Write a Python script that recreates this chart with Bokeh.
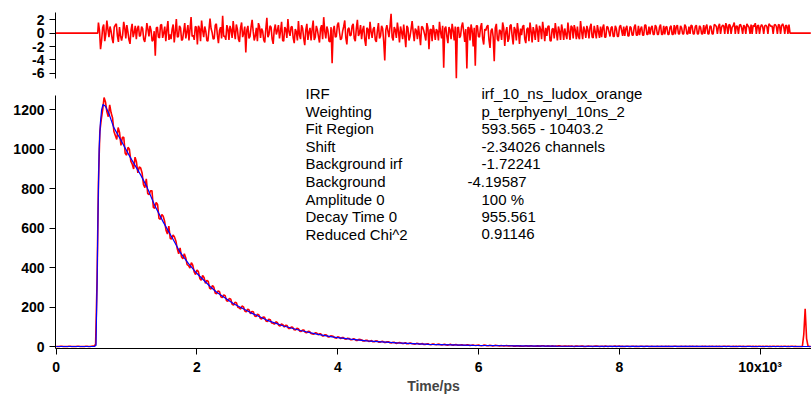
import numpy as np
from bokeh.plotting import figure
from bokeh.layouts import column
from bokeh.models import FixedTicker, Range1d, Label
from bokeh.embed import file_html
from bokeh.resources import INLINE

# ---------------- data ----------------
# fitted decay (blue), time in ps
fit_time = [0, 540, 565, 580, 595, 610, 627, 645, 665, 700, 750, 815, 900, 1050, 1200,
            1290, 1400, 1525, 1650, 1760, 1880, 2000, 2190, 2280, 2520, 2760, 2990, 3230,
            3470, 3700, 3940, 4180, 4410, 4840, 5300, 5930, 6500, 7100, 8000, 9000, 10000, 10720]
fit_counts = [0, 0, 5, 300, 700, 1000, 1130, 1200, 1227, 1218, 1180, 1112, 1058, 960, 870,
              808, 715, 628, 550, 478, 420, 370, 303, 275, 217, 172, 134, 104,
              81, 63, 48, 37, 29, 18, 11, 6, 3.5, 2, 0.8, 0.3, 0.1, 0]

# measured decay (red), channels evenly spaced (20 ps) from data_first to data_last ps
data_first, data_last = 0, 10720
data_counts = [
    # 0 - 540
    0, 0, 0, 1, 1, 0, 0, 0, 0, 1, 1, 0, 0, 0, 0, 1, 1, 0, 0, 0, 0, 1, 1, 0, 0, 1, 2, 3,
    # 560 - 1140
    12, 330, 830, 1090, 1150, 1200, 1262, 1240, 1190, 1165, 1225, 1185, 1160, 1090, 1070,
    1050, 1110, 1085, 1020, 1060, 1060, 980, 970, 1010, 1000, 940, 925, 900, 960, 935,
    # 1160 - 1740
    880, 910, 905, 880, 820, 805, 850, 775, 770, 790, 790, 705, 700, 730, 720, 650,
    645, 670, 660, 635, 590, 570, 610, 548, 545, 565, 555, 535, 495, 470,
    # 1760 - 2340
    500, 455, 445, 470, 450, 415, 410, 398, 425, 412, 378, 365, 388, 380, 345, 336,
    360, 350, 320, 335, 330, 295, 292, 309, 300, 270, 268, 282, 278, 252,
    # 2360 - 2940
    248, 262, 258, 232, 230, 244, 240, 214, 210, 224, 222, 199, 196, 190, 205, 201,
    180, 176, 190, 185, 166, 178, 176, 155, 152, 164, 160, 142, 140, 150,
    # 2960 - 3540
    148, 129, 127, 138, 136, 119, 118, 113, 125, 122, 108, 104, 114, 111, 99, 108,
    106, 92, 91, 99, 97, 85, 84, 92, 90, 78, 76, 84, 83, 71,
    # 3560 - 4140
    70, 77, 76, 66, 64, 62, 70, 68, 59, 64, 64, 54, 53, 60, 58, 49, 49, 54, 53, 51,
    44, 42, 49, 47, 40, 45, 45, 38, 37, 42,
    # 4160 - 4740
    41, 35, 34, 39, 38, 31, 31, 36, 35, 33, 28, 28, 32, 31, 26, 27, 30, 24, 24, 29,
    28, 22, 22, 25, 26, 21, 20, 24, 24, 19,
    # 4760 - 5340
    18, 21, 22, 17, 16, 19, 20, 18, 15, 16, 19, 14, 14, 17, 17, 14, 13, 12, 16, 15,
    11, 13, 15, 11, 10, 13, 14, 10, 9, 12,
    # 5360 - 5940
    13, 10, 9, 11, 12, 9, 8, 10, 11, 8, 7, 9, 11, 8, 7, 9, 10, 7, 6, 8,
    9, 7, 6, 6, 9, 7, 5, 6, 8, 6,
    # 5960 - 6500
    5, 6, 7, 5, 4, 5, 7, 6, 4, 4, 6, 5, 3, 4, 6, 5, 4, 3, 5, 4, 3, 4, 5, 3, 3, 4, 4, 2,
    # 6520 - 10500
    2, 3, 4, 2, 3, 1, 1, 3, 4, 2, 2, 3, 3, 1, 1, 2, 3, 2, 2, 4,
    4, 2, 1, 3, 2, 1, 3, 2, 1, 2, 2, 3, 3, 1, 1, 2, 2, 1, 3, 1,
    3, 1, 0, 2, 2, 1, 1, 2, 2, 0, 0, 1, 2, 1, 1, 0, 1, 2, 2, 1,
    0, 1, 1, 0, 2, 1, 0, 1, 1, 0, 1, 2, 0, 1, 2, 0, 1, 0, 0, 1,
    1, 0, 0, 1, 1, 0, 1, 0, 0, 1, 1, 0, 0, 1, 1, 0, 0, 1, 0, 0,
    0, 1, 0, 0, 1, 0, 0, 1, 0, 1, 0, 0, 0, 1, 1, 0, 0, 0, 1, 0,
    0, 1, 0, 0, 1, 0, 1, 0, 0, 1, 0, 0, 0, 1, 0, 1, 0, 0, 1, 0,
    1, 0, 0, 1, 0, 1, 0, 0, 1, 1, 0, 1, 1, 0, 0, 1, 0, 1, 0, 1,
    1, 0, 1, 0, 0, 1, 1, 1, 0, 1, 0, 1, 0, 1, 1, 0, 1, 0, 1, 1,
    0, 1, 0, 1, 1, 0, 1, 1, 0, 1, 0, 1, 1, 0, 1, 0, 1, 1, 0, 1,
    # 10520 - 10720 (scatter peak of the next pulse)
    0, 0, 0, 0, 0, 60, 191, 40, 3, 0, 0]

# weighted residuals (top panel), fit-region channels from resid_first to resid_last ps
resid_first, resid_last = 600, 10410
residuals = [
    1.6, 0.4, -2.4, -1.1, 0.8, 1.3, -1.2, -0.2, 1.9, 0.6, -0.6, 1.0, 0.3, -0.8, -1.5, 0.9, 1.2, 1.4, -0.4, -1.3,
    0.9, -0.4, -1.1, -0.3, 1.7, 0.8, -0.8, 1.2, 0.2, -1.0, -1.6, 0.5, 1.4, -0.6, 0.1, 1.1, -0.9, 0.7, 1.1, -0.5,
    -0.3, 1.0, 0.7, -0.9, -1.3, -0.2, 1.5, 0.6, -0.5, 1.1, 0.4, -1.2, -1.0, 0.3, -3.4, 0.8, 0.9, -0.6, -0.7, 1.2,
    1.3, -0.7, 0.0, 1.0, -1.2, 0.5, 1.8, -1.0, -0.2, -0.9, 0.6, 1.3, -1.4, 0.2, 2.1, -0.6, -0.5, 1.1, 0.8, -1.1,
    -0.9, 0.3, 1.5, -0.8, 0.2, 1.2, -1.1, 0.6, 2.4, -0.5, -0.3, -1.0, 1.0, 0.9, -1.7, 1.1, 0.7, -1.2, 1.9, 0.4,
    -0.6, 1.0, 0.3, -1.1, -1.2, 0.5, 2.2, 0.7, 0.1, -0.9, -0.8, 1.2, 1.4, -0.3, -1.5, 0.4, 0.9, -0.8, 2.6, -0.5,
    -0.4, -1.0, 1.2, 0.6, -1.0, 1.1, 0.5, -0.7, 1.8, 0.2, -0.9, 1.3, 0.6, -0.9, -1.3, 0.8, 1.6, -0.6, 0.0, 1.0,
    -2.9, 0.5, 1.1, -0.8, -0.5, 0.9, 2.0, 0.3, -1.1, -0.4, 0.8, -1.2, 1.5, 1.0, -0.7, 0.7, 0.3, -1.0, -1.4, 0.6,
    2.3, -0.6, -0.2, 1.1, 0.9, -0.9, -1.6, 0.5, 1.3, -0.2, 0.4, 1.2, -0.8, 0.3, 1.7, -1.1, -1.2, 0.9, 0.6, -0.7,
    2.1, 0.2, -0.4, 0.9, 1.0, -0.7, -1.5, 0.6, 0.2, -1.1, 1.8, -0.3, -0.9, 1.2, 0.7, -0.8, -1.8, 0.5, 1.4, -1.0,
    0.1, 0.8, -1.1, 0.6, 1.9, -1.0, -0.6, 1.1, 0.5, -0.5, -1.4, 0.7, 1.2, -0.9, 2.4, 0.3, -0.8, 1.0, 0.4, -1.2,
    -1.3, 0.9, -4.5, 0.4, 1.1, -0.6, -0.5, 1.2, 1.6, 0.1, -1.0, -0.8, 0.3, 1.0, 1.9, -0.7, -1.7, 0.6, 0.8, -0.4,
    -0.3, 1.1, 1.4, -0.8, -1.2, 0.7, 2.0, -0.4, 0.0, 1.2, -0.9, 0.5, 1.1, -1.0, -1.9, 0.8, 0.6, -0.9, 1.7, 0.2,
    -0.7, 0.6, 0.9, -1.0, -1.3, 0.4, 1.5, -0.8, -0.4, 1.1, 0.7, -1.2, -4.1, 0.5, 1.2, 0.3, -0.6, 1.0, 2.9, -0.6,
    -1.1, 0.9, 0.5, -0.7, 1.6, 0.3, -1.4, 1.0, 0.2, -0.9, 1.3, -0.4, -2.1, 1.1, 0.8, -1.1, -0.5, 0.6, 1.8, 0.2,
    -1.2, 0.7, 0.4, -0.9, 1.1, -0.3, -1.8, 1.0, 0.9, 0.4, -0.3, -1.1, 1.5, 0.8, -2.4, 0.5, 0.6, -1.2, 1.2, 0.3,
    -1.0, 0.6, 0.3, -1.1, 1.7, 0.2, -0.8, 1.1, -5.2, 0.7, 1.0, -0.5, -1.5, 0.9, 0.5, -0.9, 1.4, 0.4, -1.1, 1.0,
    -6.8, 0.8, 0.9, -0.7, -0.4, 1.0, 1.6, 0.2, -1.3, 0.6, -5.3, 0.9, 0.8, -1.1, 1.3, 0.4, -2.0, 0.8, -4.9, 1.1,
    1.1, -0.5, -0.6, 0.9, 1.5, -0.8, -1.7, 0.6, 0.4, 1.0, 1.2, -1.0, -2.2, 0.4, 0.7, -0.6, -4.2, 0.8, 1.4, -0.9,
    -1.2, 0.5, 0.3, -1.0, 1.6, 0.8, -1.9, 0.2, 0.9, -1.3, -0.8, 1.1, 1.3, -0.4, -1.7, 0.9, 0.5, -1.1, 1.5, 0.2,
    -1.6, 0.7, -0.3, 1.0, 1.2, -0.9, -1.5, 0.6, 0.8, -1.2, 1.6, 0.3, -1.4, 0.9, 0.2, -1.0, 1.3, 0.5, -1.3, 1.1,
    0.6, -0.9, 1.7, 0.4, -1.2, 0.8, -0.4, 1.0, 1.1, -1.1, -1.2, 0.6, 0.7, -0.8, 1.5, 0.2, -1.1, 1.0, 0.3, -1.0,
    1.3, 0.4, -1.0, 0.7, -0.2, -0.9, 1.6, 0.2, -1.0, 1.1, 0.9, -0.8, 1.2, 0.5, -0.9, 1.0, -0.5, -0.9, 1.8, 0.3,
    -0.9, 1.0, 0.4, -0.7, 1.1, 0.5, -0.8, 0.9, 1.4, -0.6, -0.7, 1.1, 0.2, -0.8, 1.2, 0.3, -0.7, 1.0, -0.6, 0.8,
    1.3, -0.6, -0.6, 1.0, 0.9, 0.2, -0.5, 0.8, 1.0, -0.5, -0.5, 1.1, 0.7, -0.5, -0.5, 0.9, 1.2, 0.4, -0.4, 1.0,
    -0.4, 0.7, 1.1, -0.4, -0.4, 1.0, 0.8, -0.3, -0.3, 0.9, 1.3, -0.3, -0.3, 1.1, -0.3, 0.6, 1.0, -0.3, -0.3, 1.2,
    1.2, -0.2, -0.2, 1.0, -0.2, 0.8, 1.1, -0.2, -0.2, 1.2, 0.9, -0.2, -0.2, 0.9, 1.3, -0.2, -0.2, 1.1, -0.2, 0.9,
    1.0, -0.2, -0.2, 0.9, 1.1, -0.2, -0.2, 1.2, -0.2, 1.0, 1.2, -0.1, -0.1, 1.1, 0.8, -0.1, -0.1, 1.3, 1.0, -0.1,
    -0.1, 1.0, -0.1, 1.2, 1.1, -0.1, -0.1, 1.0, 1.2, -0.1, -0.1, 1.1, 0.9, -0.1, -0.1, 1.2, -0.1, 0.9, 1.3, -0.1,
    -0.1, 1.1, 1.0, -0.1, -0.1, 1.3, 1.2, 1.0, -0.1, 1.0, 1.4, -0.1, 0.9, 1.2, 1.1, -0.1, 1.5, 1.0, -0.1, 1.3,
    1.2, -0.1, 0.9, 1.1, 1.6, -0.1, 1.1, 1.0, -0.1, 1.2, 1.3, 0.8, -0.1, 1.2, 1.0, -0.1, 1.4, 1.1, 0.9, -0.1,
    1.3, -0.1, 1.2, 1.0, 1.5, -0.1, 1.1, 1.2, -0.1, 0.9, 1.3, 1.0, -0.1, 1.1, 1.2, 1.0, -0.1, 1.4, 1.2, 1.0,
    1.1, -0.1, 1.2, 1.3, 1.0, -0.1, 1.3, 1.2, -0.1, 1.1, 1.4, 1.0, -0.1, 1.2, 1.1, -0.1, 1.3]
resid_outside = 0.0  # residual outside the fit region

# axes
x_ticks = [0, 2000, 4000, 6000, 8000, 10000]
x_tick_labels = ["0", "2", "4", "6", "8", "10x10\u00b3"]
resid_ticks = [2, 0, -2, -4, -6]
resid_tick_labels = ["2", "0", "-2", "-4", "-6"]
count_ticks = [0, 200, 400, 600, 800, 1000, 1200]
x_title = "Time/ps"

# fit report
info_labels = ["IRF", "Weighting", "Fit Region", "Shift", "Background irf",
               "Background", "Amplitude 0", "Decay Time 0", "Reduced Chi^2"]
info_values = ["irf_10_ns_ludox_orange", "p_terphyenyl_10ns_2", "593.565 - 10403.2",
               "-2.34026 channels", "-1.72241", "-4.19587", "100 %", "955.561", "0.91146"]

# ---------------- layout / style ----------------
W = 811
LEFT = 55
FRAME_W = W - LEFT
FONT = "Liberation Sans"
RED = "#ff0000"
BLUE = "#0000ff"
TOP_H = 80

x_range = Range1d(-10, 10730)


def style_axis(ax):
    ax.axis_line_color = "black"
    ax.axis_line_width = 1
    ax.major_tick_line_color = "black"
    ax.major_tick_line_width = 1
    ax.major_tick_out = 6
    ax.major_tick_in = 0
    ax.minor_tick_line_color = None
    ax.major_label_text_font = FONT
    ax.major_label_text_font_style = "bold"
    ax.major_label_text_font_size = "14px"
    ax.major_label_text_color = "black"


# top: residuals
p_top = figure(width=W, height=TOP_H, x_range=x_range, y_range=Range1d(-6.8, 3.1),
               output_backend="svg", toolbar_location=None, x_axis_location=None,
               min_border_left=LEFT, min_border_right=0, min_border_top=12, min_border_bottom=2)
p_top.outline_line_color = None
p_top.grid.visible = False
style_axis(p_top.yaxis[0])
p_top.yaxis[0].ticker = FixedTicker(ticks=resid_ticks)
p_top.yaxis[0].major_label_overrides = {t: l for t, l in zip(resid_ticks, resid_tick_labels)}
p_top.yaxis[0].major_label_standoff = 5

res_t = np.linspace(resid_first, resid_last, len(residuals))
res_time = np.concatenate([[x_range.start, resid_first - 10], res_t, [resid_last + 15, data_last]])
res_vals = np.concatenate([[resid_outside, resid_outside], residuals, [resid_outside, resid_outside]])
p_top.line(res_time, res_vals, line_color=RED, line_width=1.6, line_join="bevel")

# bottom: decay + fit.  The frame reaches the top of this canvas so the
# report text is not clipped; the visible y axis line stops at Y_AXIS_TOP.
BOT_H = 397 - TOP_H
BOT_BOTTOM = 49
FRAME_H = BOT_H - BOT_BOTTOM            # 268 px
PX_PER_COUNT = 0.19725
Y_START = -10.1
Y_AXIS_TOP = 1272
y_range = Range1d(Y_START, Y_START + FRAME_H / PX_PER_COUNT)
p = figure(width=W, height=BOT_H, x_range=x_range, y_range=y_range,
           output_backend="svg", toolbar_location=None,
           min_border_left=LEFT, min_border_right=0, min_border_top=0,
           min_border_bottom=BOT_BOTTOM)
p.outline_line_color = None
p.grid.visible = False
style_axis(p.yaxis[0])
p.yaxis[0].ticker = FixedTicker(ticks=count_ticks)
p.yaxis[0].bounds = (Y_START, Y_AXIS_TOP)
p.yaxis[0].major_label_standoff = 5
style_axis(p.xaxis[0])
p.xaxis[0].ticker = FixedTicker(ticks=x_ticks)
p.xaxis[0].major_label_overrides = {t: l for t, l in zip(x_ticks, x_tick_labels)}
p.xaxis[0].major_label_standoff = 4
p.xaxis[0].axis_label = x_title
p.xaxis[0].axis_label_text_font = FONT
p.xaxis[0].axis_label_text_font_style = "bold"
p.xaxis[0].axis_label_text_font_size = "14px"
p.xaxis[0].axis_label_standoff = 0

data_time = np.linspace(data_first, data_last, len(data_counts))
p.line(data_time, data_counts, line_color=RED, line_width=1.6, line_join="bevel")
p.line(fit_time, fit_counts, line_color=BLUE, line_width=1.2)


# fit report text, placed by window pixels
def px_x(px):
    return x_range.start + (px - LEFT) * (x_range.end - x_range.start) / FRAME_W


def px_y(py):
    frame_bottom = TOP_H + BOT_H - BOT_BOTTOM
    return y_range.start + (frame_bottom - py) * (y_range.end - y_range.start) / FRAME_H


row0, row_step = 93, 17.6
for i, (lab, val) in enumerate(zip(info_labels, info_values)):
    py = row0 + i * row_step
    p.add_layout(Label(x=px_x(305), y=px_y(py), text=lab, text_font=FONT,
                       text_font_size="15px", text_baseline="middle", text_color="black"))
    vx = 467 if lab == "Background" else 481
    p.add_layout(Label(x=px_x(vx), y=px_y(py), text=val, text_font=FONT,
                       text_font_size="15px", text_baseline="middle", text_color="black"))

layout = column(p_top, p)
open("out.html", "w").write(file_html(layout, INLINE))
